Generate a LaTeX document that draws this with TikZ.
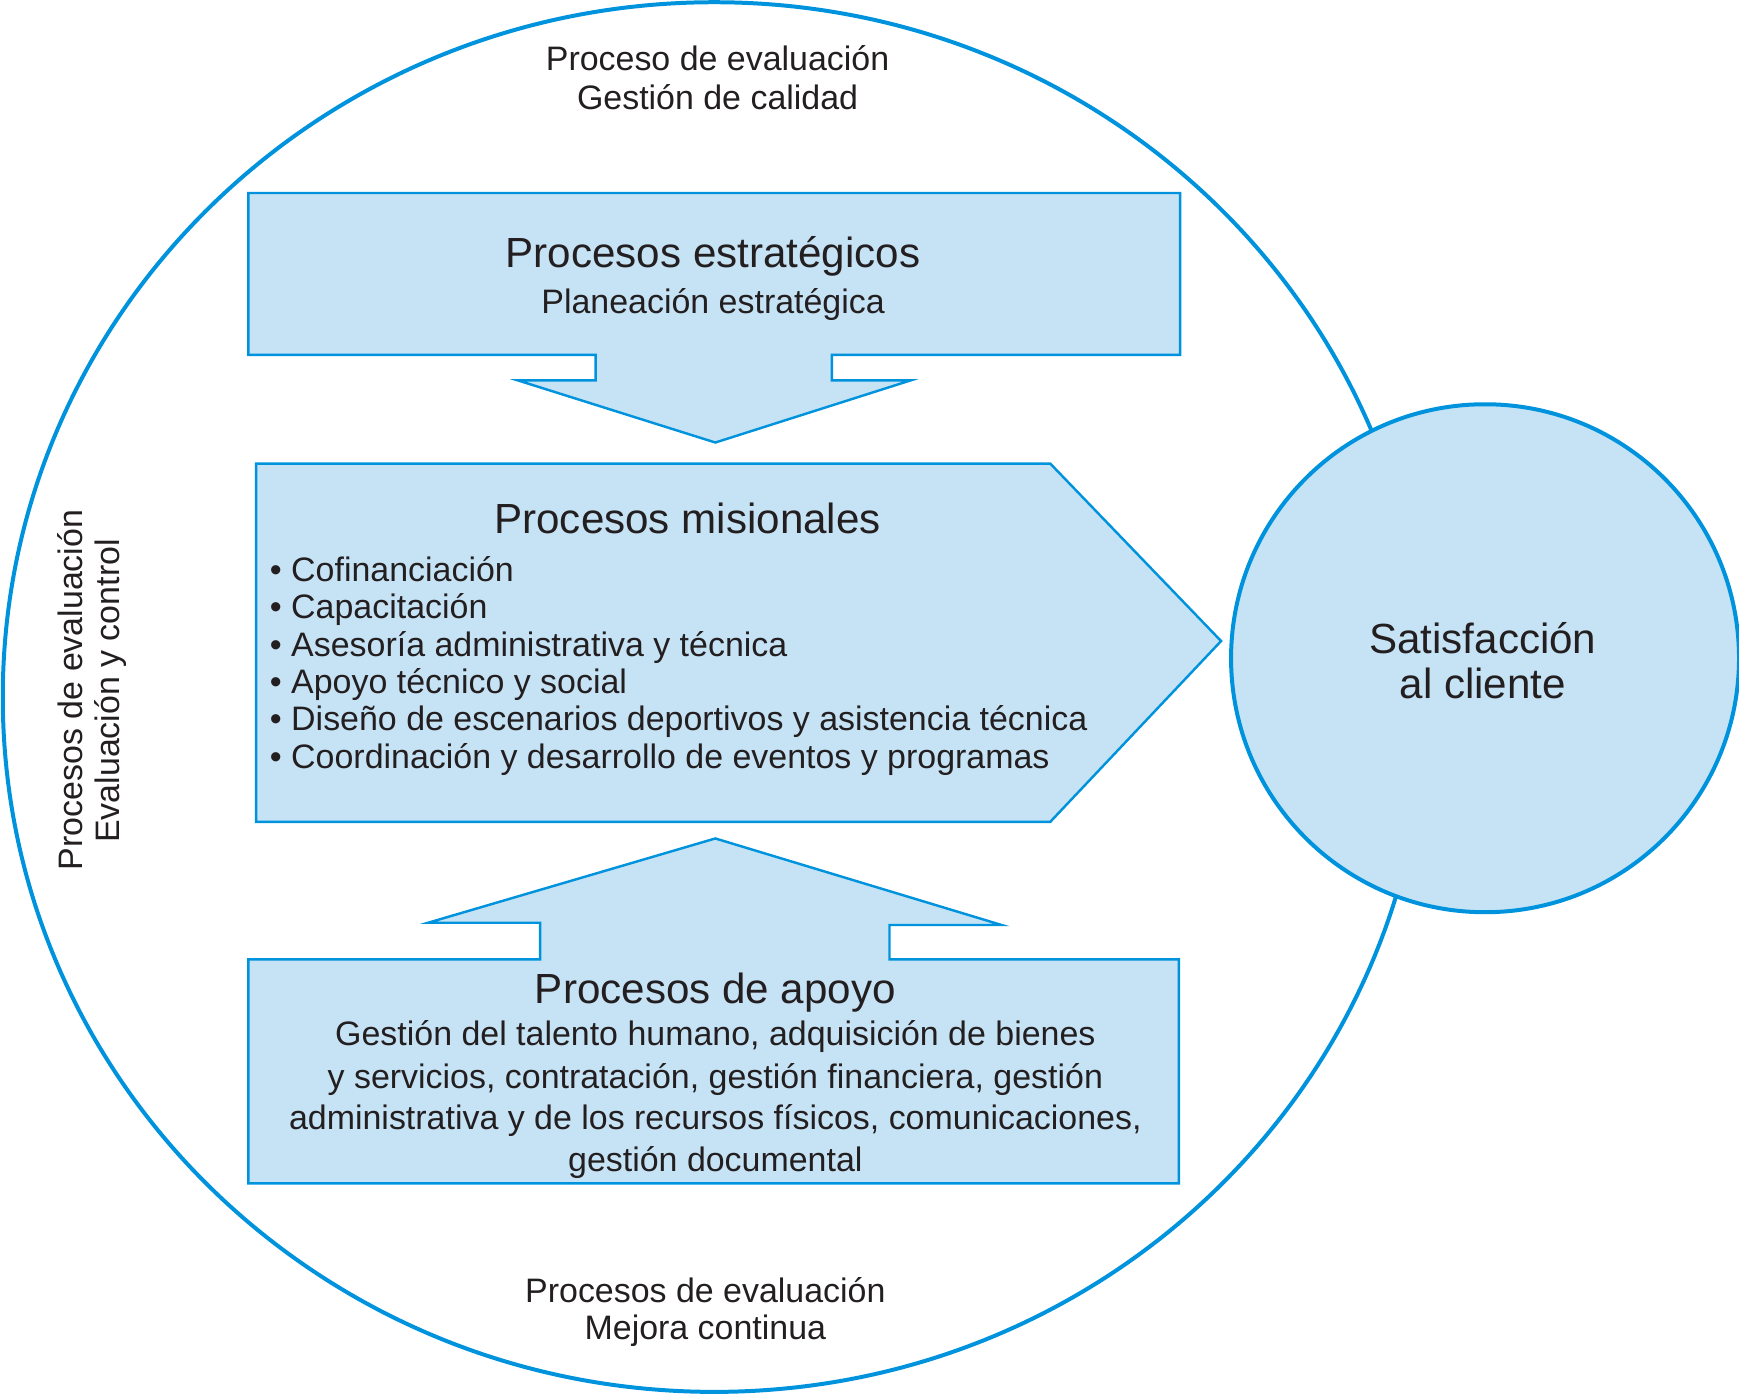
\documentclass[tikz,border=0pt]{standalone}
\usepackage{fontspec}
\setmainfont{Liberation Sans}
\definecolor{lineblue}{RGB}{0,147,221}
\definecolor{fillblue}{RGB}{198,226,245}
\definecolor{txtcol}{RGB}{35,31,32}
\begin{document}
\begin{tikzpicture}[x=0.5pt,y=-0.5pt,
  ring/.style={draw=lineblue, line width=1.8pt},
  shapebox/.style={draw=lineblue, fill=fillblue, line width=1.1pt, line join=miter},
  body/.style={text=txtcol, inner sep=0pt, anchor=base, font=\fontsize{15.3}{18}\selectfont},
  title/.style={text=txtcol, inner sep=0pt, anchor=base, font=\fontsize{19}{22}\selectfont},
  bullet/.style={body, anchor=base west}]
\useasboundingbox (0,0) rectangle (1568,1259);
% outer ellipse
\draw[ring] (644,628.5) ellipse [x radius=320.75pt, y radius=313.25pt];
% top box with down arrow
\draw[shapebox] (224,174) -- (1064,174) -- (1064,320) -- (750,320) -- (750,343) -- (821,343)
  -- (645,399) -- (467,343) -- (537,343) -- (537,320) -- (224,320) -- cycle;
% middle pentagon arrow
\draw[shapebox] (231,418) -- (947,418) -- (1101,578) -- (947,741) -- (231,741) -- cycle;
% bottom box with up arrow
\draw[shapebox] (224,865) -- (487,865) -- (487,832) -- (386,832) -- (645,756) -- (903,834)
  -- (802,834) -- (802,865) -- (1063,865) -- (1063,1067) -- (224,1067) -- cycle;
% client circle
\node[circle, draw=lineblue, fill=fillblue, line width=1.8pt, minimum size=229pt, inner sep=0pt] (sat) at (1339,593.5) {};
\node[title] (sat1) at (1337,589) {Satisfacción};
\node[title] (sat2) at (1337,630) {al cliente};
% outer texts
\node[body] (ot1) at (647,64) {Proceso de evaluación};
\node[body] (ot2) at (647,99) {Gestión de calidad};
\node[body] (ob1) at (636,1174) {Procesos de evaluación};
\node[body] (ob2) at (636,1208) {Mejora continua};
\node[body, rotate=90] (ol1) at (74,622) {Procesos de evaluación};
\node[body, rotate=90] (ol2) at (108,623) {Evaluación y control};
% top box texts
\node[title] (est1) at (643,241) {Procesos estratégicos};
\node[body] (est2) at (643,283) {Planeación estratégica};
% middle texts
\node[title] (mis) at (620,481) {Procesos misionales};
\node[bullet] (m1) at (243,524) {• Cofinanciación};
\node[bullet] (m2) at (243,558) {• Capacitación};
\node[bullet] (m3) at (243,592) {• Asesoría administrativa y técnica};
\node[bullet] (m4) at (243,625) {• Apoyo técnico y social};
\node[bullet] (m5) at (243,659) {• Diseño de escenarios deportivos y asistencia técnica};
\node[bullet] (m6) at (243,693) {• Coordinación y desarrollo de eventos y programas};
% bottom texts
\node[title] (apo) at (645,905) {Procesos de apoyo};
\node[body] (a1) at (645,943) {Gestión del talento humano, adquisición de bienes};
\node[body] (a2) at (645,981) {y servicios, contratación, gestión financiera, gestión};
\node[body] (a3) at (645,1018) {administrativa y de los recursos físicos, comunicaciones,};
\node[body] (a4) at (645,1056) {gestión documental};
\end{tikzpicture}
\end{document}
